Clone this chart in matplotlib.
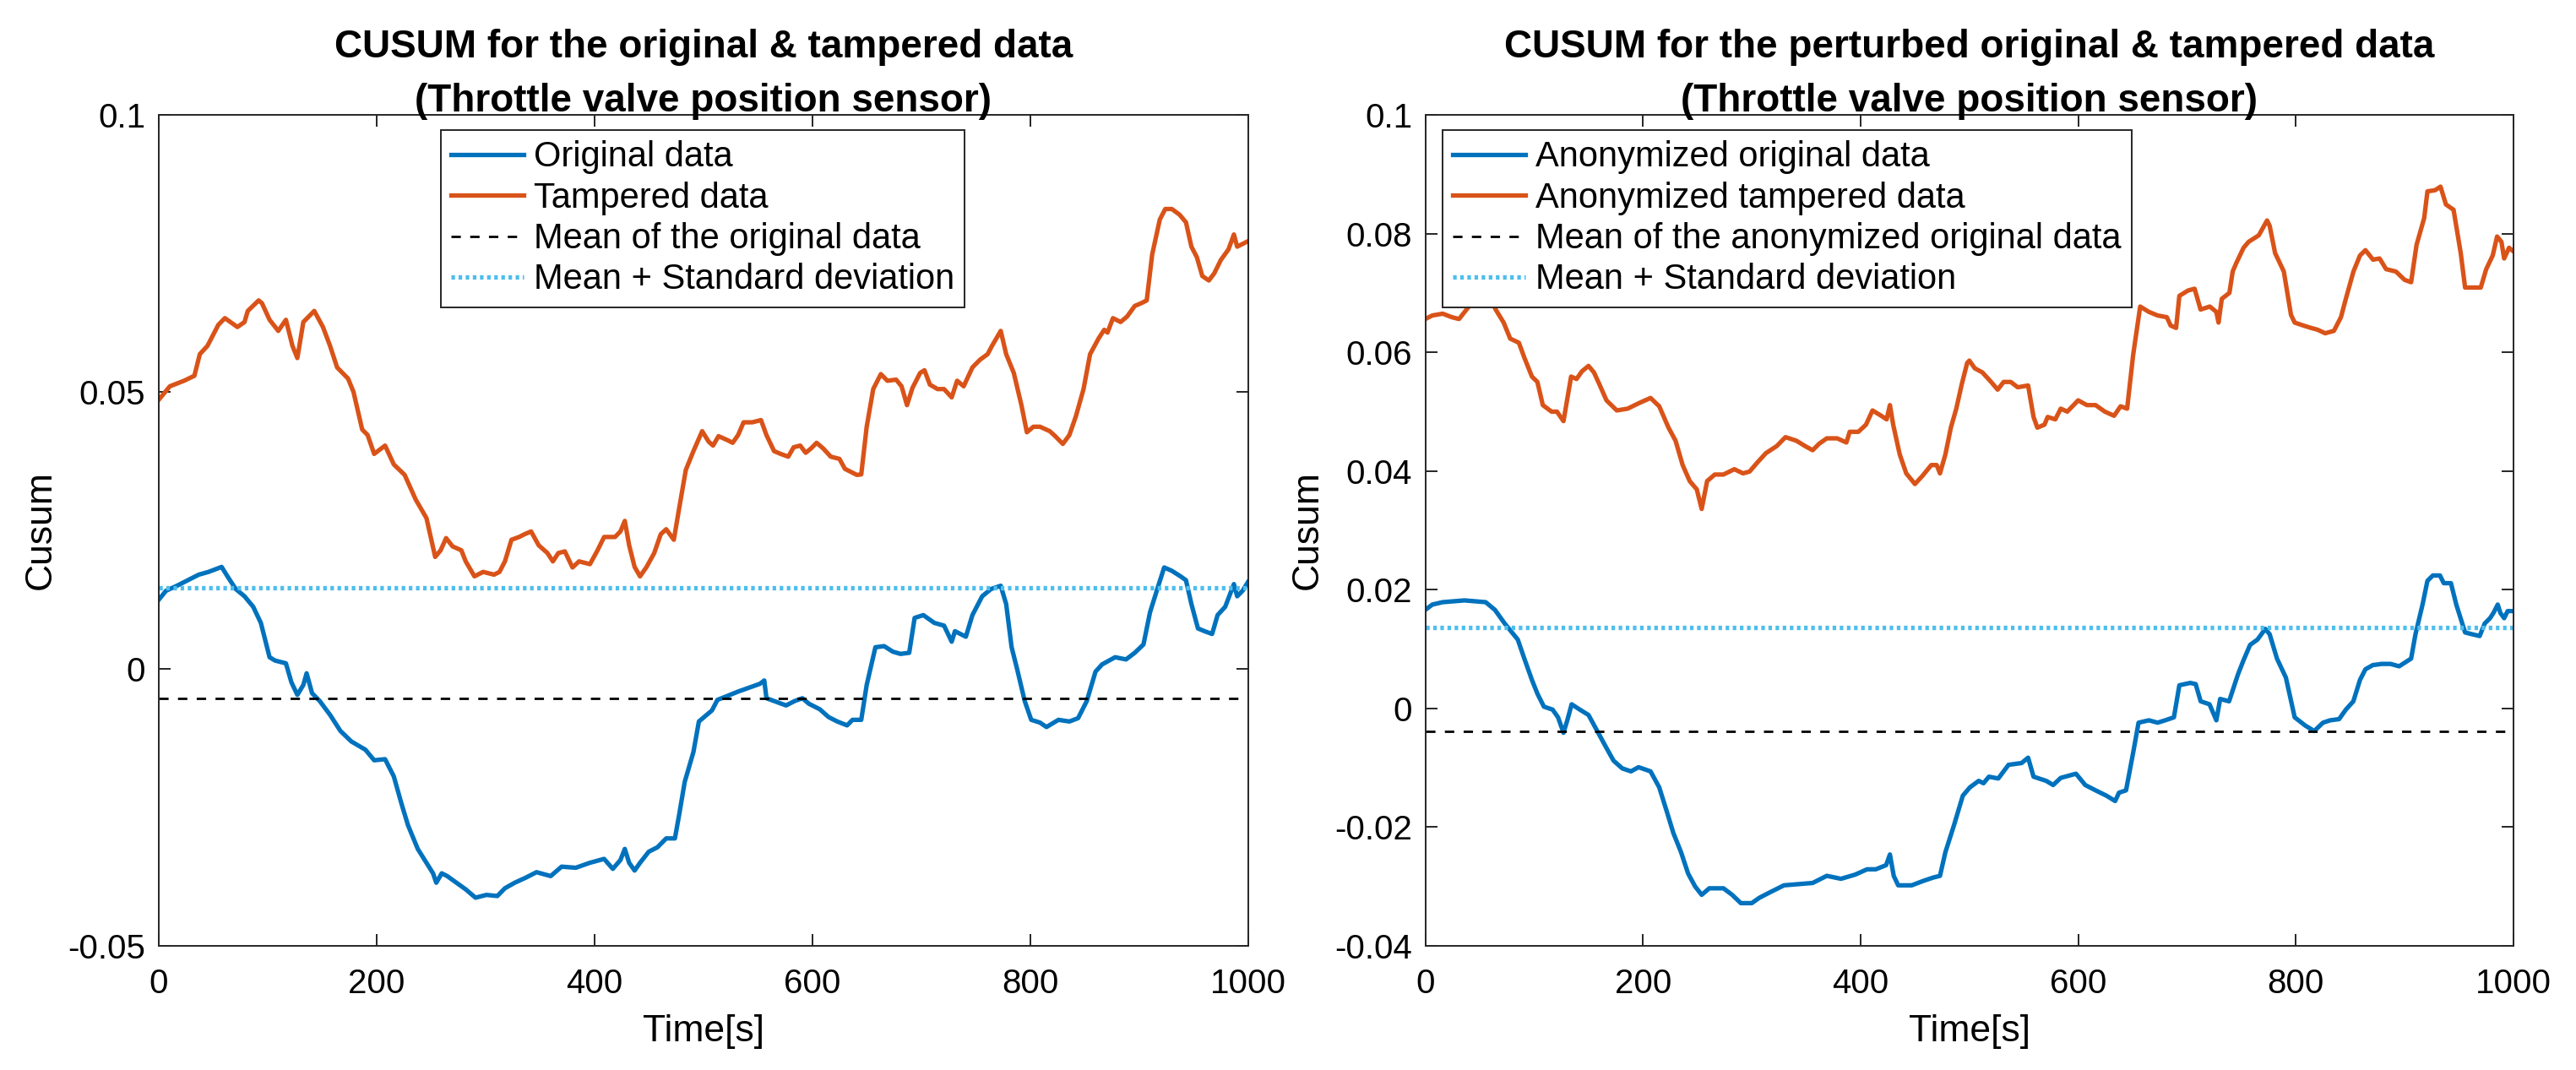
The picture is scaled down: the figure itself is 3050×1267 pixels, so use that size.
import numpy as np
import matplotlib
matplotlib.use("Agg")
import matplotlib.pyplot as plt

plt.rcParams['font.family'] = ['Liberation Sans', 'DejaVu Sans']
plt.rcParams['axes.unicode_minus'] = False

# ---- data ----
# left panel: original vs tampered
left_orig_x = [0, 7, 17, 27, 37, 46, 58, 64, 71, 79, 87, 94, 102, 107, 117, 122, 127.5, 133, 136, 141,
               148, 157.5, 167, 177, 190, 198, 208, 216, 223, 229, 238, 246, 252, 255, 260, 265, 275, 282, 291, 301,
               311, 318, 327, 337, 347, 360, 370, 383, 396, 409, 417, 424, 428, 432, 437, 442, 450, 458, 466, 474,
               478, 483, 491, 496, 502, 508, 513, 522, 532, 542, 552, 556, 558, 565, 576, 584, 591, 597, 607, 615,
               623, 632, 637, 645, 650, 658, 666, 674, 681, 689, 694, 702, 712, 721, 728, 731, 741, 747, 756, 764,
               773, 778, 783, 788, 795, 801, 809, 815, 826, 836, 844, 852, 860, 866, 878, 888, 896, 904, 910, 917,
               923, 930, 938, 943, 948, 954, 960, 967, 972, 979, 987, 990, 995, 1000]
left_orig_y = [0.0124, 0.0141, 0.015, 0.016, 0.017, 0.0175, 0.0184, 0.0165, 0.0144, 0.0131, 0.0112, 0.0083, 0.0021, 0.0015, 0.001, -0.0024, -0.0047, -0.0029, -0.0008, -0.0044,
               -0.0058, -0.0083, -0.0112, -0.0131, -0.0146, -0.0165, -0.0163, -0.0194, -0.0243, -0.0282, -0.0325, -0.035, -0.0369, -0.0386, -0.0369, -0.0374, -0.0388, -0.0398, -0.0413, -0.0408,
               -0.041, -0.0396, -0.0386, -0.0377, -0.0367, -0.0374, -0.0357, -0.0359, -0.035, -0.0343, -0.0361, -0.0345, -0.0325, -0.035, -0.0364, -0.035, -0.033, -0.0322, -0.0306, -0.0306,
               -0.0262, -0.0204, -0.015, -0.0095, -0.0085, -0.0075, -0.0056, -0.0049, -0.0041, -0.0034, -0.0027, -0.0021, -0.0053, -0.0058, -0.0066, -0.0058, -0.0053, -0.0063, -0.0073, -0.0087,
               -0.0095, -0.0102, -0.0092, -0.0092, -0.0029, 0.0039, 0.0041, 0.0031, 0.0027, 0.0029, 0.0092, 0.0097, 0.0083, 0.0078, 0.0049, 0.0068, 0.0058, 0.0097, 0.0131, 0.0144,
               0.015, 0.0117, 0.0039, 0.0, -0.0058, -0.0092, -0.0097, -0.0105, -0.0092, -0.0095, -0.0089, -0.0058, -0.0005, 0.0008, 0.0021, 0.0017, 0.0029, 0.0044, 0.0102, 0.0146,
               0.0183, 0.0177, 0.0167, 0.016, 0.0117, 0.0073, 0.0068, 0.0063, 0.0097, 0.0112, 0.0153, 0.0131, 0.0141, 0.0157]

left_tamp_x = [0, 10.5, 23.5, 33, 38, 45, 55, 61, 72.5, 79, 82, 92, 95, 102, 110, 117, 123, 127.5, 133, 143,
               151, 157.5, 164, 174, 179, 187, 192, 198, 208, 216, 226, 236, 246, 254, 259, 264, 270, 278, 282, 290,
               298, 308, 313, 318, 324, 331, 336, 342, 349, 357, 362, 367, 373, 380, 386, 396, 403, 409, 419, 424,
               428, 432, 437, 442, 448, 455, 461, 466, 473, 478, 484, 491, 499, 505, 509, 514, 522, 527, 532, 537,
               545, 553, 558, 565, 571, 578, 583, 589, 594, 599, 604, 610, 617, 625, 630, 637, 641, 645, 650, 656,
               663, 669, 677, 682, 687, 692, 699, 703, 708, 715, 721, 728, 733, 739, 747, 754, 761, 765, 773, 778,
               785, 792, 797, 803, 809, 818, 823, 830, 836, 842, 849, 855, 863, 868, 871, 876, 883, 889, 896, 902,
               907, 912, 919, 924, 930, 937, 943, 948, 953, 958, 964, 969, 975, 982, 987, 990, 1000]
left_tamp_y = [0.0485, 0.051, 0.052, 0.0529, 0.0568, 0.0583, 0.0621, 0.0633, 0.0617, 0.0626, 0.0646, 0.0665, 0.066, 0.063, 0.061, 0.063, 0.0583, 0.0561, 0.0626, 0.0646,
               0.0617, 0.0583, 0.0544, 0.0524, 0.05, 0.0432, 0.0422, 0.0388, 0.0403, 0.0369, 0.035, 0.0306, 0.0272, 0.0202, 0.0214, 0.0236, 0.0221, 0.0214, 0.0194, 0.0167,
               0.0175, 0.017, 0.0175, 0.0194, 0.0233, 0.0238, 0.0243, 0.0248, 0.0223, 0.0209, 0.0194, 0.0209, 0.0212, 0.0183, 0.0194, 0.0189, 0.0214, 0.0238, 0.0238, 0.0248,
               0.0267, 0.0223, 0.0184, 0.0167, 0.0184, 0.0209, 0.0243, 0.0252, 0.0233, 0.0291, 0.0359, 0.0393, 0.0429, 0.041, 0.0403, 0.042, 0.0413, 0.0408, 0.0422, 0.0445,
               0.0445, 0.0449, 0.0422, 0.0393, 0.0388, 0.0383, 0.04, 0.0403, 0.039, 0.0398, 0.0408, 0.0398, 0.0383, 0.0379, 0.0361, 0.0354, 0.035, 0.0351, 0.0437, 0.0505,
               0.0532, 0.052, 0.0522, 0.051, 0.0476, 0.0507, 0.0534, 0.0539, 0.0513, 0.0505, 0.0505, 0.049, 0.052, 0.051, 0.0544, 0.0558, 0.0568, 0.0583, 0.061, 0.0568,
               0.0534, 0.0476, 0.0427, 0.0437, 0.0437, 0.0429, 0.042, 0.0406, 0.0422, 0.0456, 0.0505, 0.0568, 0.0597, 0.0612, 0.0607, 0.0633, 0.0626, 0.0636, 0.0655, 0.066,
               0.0665, 0.0748, 0.0811, 0.083, 0.083, 0.082, 0.0806, 0.0762, 0.0743, 0.0709, 0.0701, 0.0714, 0.0738, 0.0757, 0.0784, 0.0762, 0.0772]

left_mean = -0.0053
left_mean_std = 0.0147

# right panel: anonymized (perturbed) original vs tampered
right_orig_x = [0, 6.5, 16, 36, 55.5, 64, 73, 85, 91, 98, 103, 109, 117, 122, 127, 130.5, 134.5, 142, 150, 158,
                166, 173, 181, 189, 196, 207, 215, 222, 228, 235, 241.5, 248, 254, 261, 274, 282, 290, 300, 307, 316.5,
                329.6, 343, 356, 369, 382, 395, 406, 414, 423.5, 427, 430.5, 434.6, 447, 457, 466.6, 473, 478, 486, 494, 500.5,
                508.6, 513, 518, 526.6, 536, 548, 554, 559, 570.6, 577, 584, 598, 606.5, 616, 626, 634, 637.5, 644, 650.6, 655.5,
                665, 673, 680, 688, 693, 703, 708, 712.6, 720.7, 727, 730.5, 738.7, 746.8, 751.7, 758, 764.8, 772, 776, 782.7, 790.9,
                799, 808.8, 817, 825, 831.6, 839.8, 846, 852.9, 859, 864, 870.8, 879, 887, 895, 906, 910, 916.5, 921, 926, 932.5,
                936, 942.6, 947.5, 955.6, 962, 969, 973.6, 978.5, 981.7, 985.6, 988, 991.5, 994.7, 1000]
right_orig_y = [0.0166, 0.0175, 0.0179, 0.0182, 0.0179, 0.0166, 0.0143, 0.0116, 0.0084, 0.0048, 0.0025, 0.0003, -0.0002, -0.0015, -0.0041, -0.002, 0.0007, -0.0002, -0.0011, -0.0038,
                -0.0065, -0.0088, -0.0101, -0.0106, -0.0099, -0.0106, -0.0133, -0.0174, -0.021, -0.0242, -0.0278, -0.03, -0.0314, -0.0303, -0.0303, -0.0314, -0.0328, -0.0328, -0.0319, -0.031,
                -0.0298, -0.0296, -0.0294, -0.0282, -0.0287, -0.028, -0.0271, -0.0271, -0.0264, -0.0246, -0.0282, -0.0298, -0.0298, -0.0291, -0.0285, -0.0282, -0.0242, -0.0196, -0.0147, -0.0133,
                -0.0122, -0.0126, -0.0115, -0.0118, -0.0095, -0.0092, -0.0083, -0.0115, -0.0122, -0.0129, -0.0117, -0.011, -0.0129, -0.0138, -0.0147, -0.0156, -0.0142, -0.0138, -0.0074, -0.0024,
                -0.002, -0.0024, -0.002, -0.0015, 0.0039, 0.0043, 0.0041, 0.0012, 0.0007, -0.002, 0.0016, 0.0012, 0.0057, 0.008, 0.0107, 0.0116, 0.0134, 0.0125, 0.0084, 0.0052,
                -0.0015, -0.0029, -0.0038, -0.0024, -0.002, -0.0018, -0.0002, 0.0012, 0.0048, 0.0066, 0.0073, 0.0075, 0.0075, 0.0071, 0.0084, 0.0125, 0.0175, 0.0215, 0.0224, 0.0224,
                0.0211, 0.0211, 0.0175, 0.0128, 0.0125, 0.0122, 0.0143, 0.0152, 0.0161, 0.0175, 0.0161, 0.0152, 0.0164, 0.0164]

right_tamp_x = [0, 6.5, 16, 24.5, 31, 37.5, 50, 58, 65, 72, 78, 86, 91, 98, 103, 108, 116, 121, 127, 134,
                139, 144, 150, 155, 160, 166.5, 176, 186, 196, 207, 215, 223.5, 230, 236.5, 243, 249.5, 254, 259, 266, 274,
                284, 292, 298, 305, 313, 323, 331, 341, 349, 356, 362, 369, 378.5, 387, 390, 398, 405, 411, 419, 424,
                427, 430, 436, 442, 450, 457, 465, 470, 473, 478, 483, 488, 493, 498, 500, 505, 512, 520, 526, 531.5,
                538, 544.5, 554, 559, 562.5, 569, 572, 579, 584, 590, 600, 608, 616, 624.5, 633, 639, 645, 650.5, 657, 665,
                673, 681.5, 685, 690, 693, 701, 707, 712.5, 721, 727, 729, 732, 739, 742, 745, 752, 756.6, 766, 773.6, 776,
                781, 789, 795.6, 799, 807, 814, 820, 827, 835, 841.5, 846, 853, 859, 864, 871, 877, 883, 892, 900, 906,
                911, 918, 921, 928, 933, 938, 945, 951.6, 955.6, 962, 970, 975, 981, 985, 989, 991.5, 996, 1000]
right_tamp_y = [0.0656, 0.0662, 0.0665, 0.0659, 0.0656, 0.0671, 0.070, 0.0695, 0.0671, 0.065, 0.0623, 0.0616, 0.0591, 0.0559, 0.055, 0.0511, 0.05, 0.05, 0.0484, 0.0559,
                0.0555, 0.0568, 0.0577, 0.0566, 0.0546, 0.0519, 0.0502, 0.0505, 0.0514, 0.0523, 0.0509, 0.0473, 0.0451, 0.041, 0.0383, 0.0369, 0.0336, 0.0383, 0.0394, 0.0394,
                0.0403, 0.0396, 0.0399, 0.0414, 0.043, 0.0442, 0.0457, 0.0451, 0.0442, 0.0435, 0.0446, 0.0455, 0.0455, 0.0448, 0.0466, 0.0466, 0.0478, 0.0502, 0.0493, 0.0487,
                0.0511, 0.0478, 0.0428, 0.0396, 0.0378, 0.0392, 0.041, 0.041, 0.0396, 0.0428, 0.0473, 0.0505, 0.0546, 0.0582, 0.0586, 0.0573, 0.0566, 0.055, 0.0537, 0.055,
                0.055, 0.0541, 0.0544, 0.0491, 0.0473, 0.0478, 0.0491, 0.0487, 0.0505, 0.05, 0.0519, 0.0511, 0.0511, 0.05, 0.0493, 0.0509, 0.0505, 0.0595, 0.0677, 0.0668,
                0.0662, 0.0659, 0.0645, 0.0641, 0.0695, 0.0704, 0.0707, 0.0672, 0.0677, 0.0668, 0.065, 0.069, 0.07, 0.0736, 0.0749, 0.0776, 0.0786, 0.0797, 0.0822, 0.0813,
                0.0767, 0.0736, 0.0663, 0.065, 0.0645, 0.0641, 0.0638, 0.0632, 0.0636, 0.0659, 0.069, 0.0736, 0.0763, 0.0772, 0.0756, 0.0758, 0.074, 0.0736, 0.0722, 0.0718,
                0.0781, 0.0826, 0.0871, 0.0873, 0.0879, 0.0849, 0.084, 0.0767, 0.0709, 0.0709, 0.0709, 0.074, 0.0763, 0.0795, 0.0786, 0.0758, 0.0776, 0.077]

right_mean = -0.0038
right_mean_std = 0.0136

x_ticks = [0, 200, 400, 600, 800, 1000]
left_yticks = [-0.05, 0, 0.05, 0.1]
left_ytick_labels = ['-0.05', '0', '0.05', '0.1']
right_yticks = [-0.04, -0.02, 0, 0.02, 0.04, 0.06, 0.08, 0.1]
right_ytick_labels = ['-0.04', '-0.02', '0', '0.02', '0.04', '0.06', '0.08', '0.1']

left_title = "CUSUM for the original & tampered data\n(Throttle valve position sensor)"
right_title = "CUSUM for the perturbed original & tampered data\n(Throttle valve position sensor)"
left_labels = ["Original data", "Tampered data", "Mean of the original data", "Mean + Standard deviation"]
right_labels = ["Anonymized original data", "Anonymized tampered data",
                "Mean of the anonymized original data", "Mean + Standard deviation"]

BLUE = '#0072BD'
ORANGE = '#D95319'
CYAN = '#4DBEEE'
AXC = '#262626'

fig = plt.figure(figsize=(15.25, 6.335), dpi=200)
ax1 = fig.add_axes([0.0615, 0.116, 0.423, 0.7767])
ax2 = fig.add_axes([0.5533, 0.116, 0.4224, 0.7767])


def draw_panel(ax, ox, oy, tx, ty, mean, mstd, ylim, yticks, ylabels, title, labels, loc, anchor):
    ax.plot(ox, oy, color=BLUE, lw=1.9, label=labels[0])
    ax.plot(tx, ty, color=ORANGE, lw=1.9, label=labels[1])
    ax.axhline(mean, color='black', lw=1.0, ls=(0, (4, 4)), label=labels[2])
    ax.axhline(mstd, color=CYAN, lw=1.9, ls=(0, (0.8, 0.8)), label=labels[3])
    ax.set_xlim(0, 1000)
    ax.set_ylim(*ylim)
    ax.set_xticks(x_ticks)
    ax.set_yticks(yticks)
    ax.set_yticklabels(ylabels)
    ax.tick_params(direction='in', length=5, width=0.7, top=True, right=True,
                   labelsize=14.5, colors=AXC, labelcolor='black')
    ax.tick_params(axis='x', pad=9.5)
    ax.tick_params(axis='y', pad=5.6)
    for s in ax.spines.values():
        s.set_color(AXC)
        s.set_linewidth(0.7)
    ax.set_xlabel("Time[s]", fontsize=16)
    ax.set_ylabel("Cusum", fontsize=16)
    ax.xaxis.set_label_coords(0.5, -0.082)
    ax.yaxis.set_label_coords(-0.092, 0.5)
    ax.set_title(title, fontsize=16.5, fontweight='bold', pad=1.5, linespacing=1.58)
    leg = ax.legend(loc=loc, bbox_to_anchor=anchor, fontsize=15, frameon=True, fancybox=False,
                    edgecolor=AXC, framealpha=1, handlelength=2.06, handletextpad=0.28,
                    labelspacing=0.2, borderpad=0.3, borderaxespad=0)
    leg.get_frame().set_linewidth(0.7)
    leg.set_zorder(5)


draw_panel(ax1, left_orig_x, left_orig_y, left_tamp_x, left_tamp_y, left_mean, left_mean_std,
           (-0.05, 0.1), left_yticks, left_ytick_labels, left_title, left_labels,
           'upper center', (0.4995, 0.9817))
draw_panel(ax2, right_orig_x, right_orig_y, right_tamp_x, right_tamp_y, right_mean, right_mean_std,
           (-0.04, 0.1), right_yticks, right_ytick_labels, right_title, right_labels,
           'upper left', (0.0157, 0.9817))

fig.savefig("out.png", dpi=200, facecolor='white')
